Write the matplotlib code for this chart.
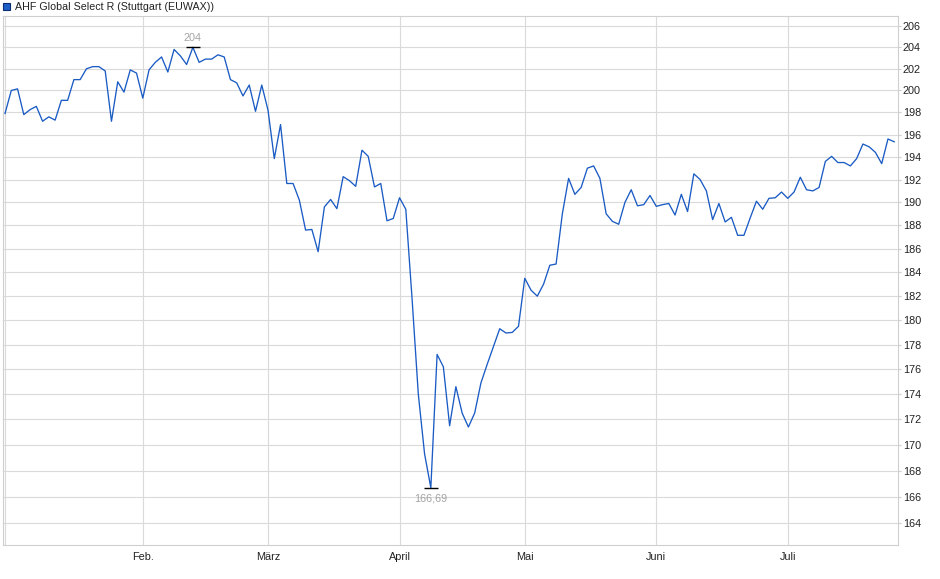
import numpy as np
import matplotlib

matplotlib.use("Agg")
import matplotlib.pyplot as plt
from matplotlib.patches import Rectangle
from matplotlib.ticker import FixedLocator, NullLocator

plt.rcParams["font.family"] = ["Liberation Sans", "DejaVu Sans"]

# daily closes, one value per trading day (Jan - Jul)
values = [
    197.9, 200.0, 200.15, 197.8, 198.25, 198.55, 197.2, 197.6, 197.3, 199.1,
    199.1, 201.0, 201.0, 202.0, 202.2, 202.2, 201.8, 197.2, 200.8, 199.85,
    201.9, 201.6, 199.3, 201.9, 202.6, 203.1, 201.7, 203.8, 203.2, 202.4,
    204.0, 202.6, 202.9, 202.9, 203.3, 203.1, 201.0, 200.7, 199.5, 200.5,
    198.1, 200.5, 198.2, 193.85, 196.9, 191.65, 191.65, 190.2, 187.6, 187.65,
    185.75, 189.6, 190.25, 189.45, 192.25, 191.9, 191.4, 194.6, 194.05, 191.35,
    191.65, 188.4, 188.6, 190.4, 189.4, 181.8, 174.0, 169.3, 166.69, 177.2,
    176.2, 171.5, 174.6, 172.5, 171.4, 172.5, 174.9, 176.4, 177.85, 179.3,
    178.95, 179.0, 179.5, 183.5, 182.5, 182.0, 183.0, 184.6, 184.7, 189.0,
    192.1, 190.7, 191.3, 193.0, 193.2, 192.1, 189.0, 188.35, 188.1, 190.0,
    191.1, 189.7, 189.8, 190.6, 189.65, 189.8, 189.9, 188.9, 190.7, 189.2,
    192.5, 192.0, 191.0, 188.5, 189.9, 188.3, 188.7, 187.15, 187.15, 188.65,
    190.1, 189.4, 190.35, 190.4, 190.9, 190.35, 190.9, 192.2, 191.1, 191.0,
    191.3, 193.6, 194.05, 193.5, 193.5, 193.2, 193.85, 195.15, 194.9, 194.4,
    193.4, 195.6, 195.35,
]

# trading days per month, used to place the month labels
month_days = [22, 20, 21, 20, 21, 21, 18]
month_labels = ["Jan.", "Feb.", "März", "April", "Mai", "Juni", "Juli"]

y_ticks = list(range(164, 207, 2))
title = "AHF Global Select R (Stuttgart (EUWAX))"

line_color = "#1a5bc4"
grid_color = "#dadada"


def de_fmt(v):
    s = f"{v:.2f}".replace(".", ",")
    return s[:-3] if s.endswith(",00") else s


fig = plt.figure(figsize=(9.4, 5.79), dpi=100)
W, H = 940, 579
left, right, top, bottom = 2.7, 898.3, 16, 545.3
ax = fig.add_axes([left / W, 1 - bottom / H, (right - left) / W, (bottom - top) / H])

x = np.arange(len(values))
ax.plot(x, values, color=line_color, lw=0.95, zorder=3)

ax.set_yscale("log")
ax.set_ylim(162.35, 206.95)
ax.set_xlim(-0.37, 142.65)

ax.yaxis.set_major_locator(FixedLocator(y_ticks))
ax.yaxis.set_minor_locator(NullLocator())
ax.set_yticklabels([str(t) for t in y_ticks])
ax.yaxis.tick_right()

starts = np.cumsum([0] + month_days[:-1])
ax.set_xticks(starts[1:])
ax.set_xticklabels(month_labels[1:])
ax.xaxis.set_minor_locator(NullLocator())

ax.grid(True, color=grid_color, lw=0.8, zorder=0)
ax.axvline(starts[0], color=grid_color, lw=0.8, zorder=0)
for sp in ax.spines.values():
    sp.set_color("#cfcfcf")
    sp.set_linewidth(0.8)

ax.tick_params(axis="y", which="major", length=2, width=0.8, color="#cfcfcf",
               pad=1.2, labelsize=7.8, labelcolor="#222222")
ax.tick_params(axis="x", which="major", length=0, pad=4.5,
               labelsize=7.8, labelcolor="#222222")

# high / low markers
i_max = int(np.argmax(values))
i_min = int(np.argmin(values))
for i, dy in ((i_max, 6.8), (i_min, -8.0)):
    ax.plot(i, values[i], marker="_", ms=9.5, mew=1.0, color="black", zorder=4)
    ax.annotate(de_fmt(values[i]), (i, values[i]), xytext=(0, dy),
                textcoords="offset points", ha="center", va="center",
                fontsize=7.8, color="#a3a3a3", zorder=5)

# legend box
fig.patches.append(Rectangle((2.7 / W, 1 - 10.3 / H), 7.3 / W, 7.3 / H,
                             transform=fig.transFigure, facecolor="#1f5fc8",
                             edgecolor="#0b2c6e", lw=0.8))
fig.text(15.2 / W, 1 - 6.6 / H, title, fontsize=7.7, va="center", ha="left",
         color="#222222")

fig.savefig("out.png", dpi=100)
